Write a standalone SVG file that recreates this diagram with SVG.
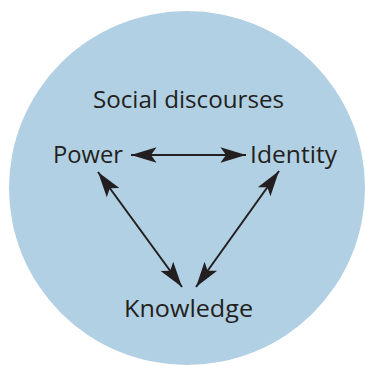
<svg xmlns="http://www.w3.org/2000/svg" width="365" height="366" viewBox="0 0 365 366">
<style>
.lbl{font-family:"Open Sans","Liberation Sans",sans-serif;font-size:24.5px;fill:#231f20}
.con{stroke:#231f20;stroke-width:2;fill:none}
</style>
<defs>
<marker id="ah" markerUnits="userSpaceOnUse" markerWidth="30" markerHeight="20" viewBox="-24 -9 26 18" refX="0" refY="0" orient="auto-start-reverse">
<path d="M0,0 L-23,-7 L-18,0 L-23,7 Z" fill="#231f20"/>
</marker>
</defs>
<rect width="365" height="366" fill="#ffffff"/>
<ellipse id="bg" cx="187" cy="188" rx="178" ry="177" fill="#b1d0e3"/>
<g id="title"><text class="lbl" x="93" y="108" textLength="191" lengthAdjust="spacingAndGlyphs">Social discourses</text></g>
<g id="power"><text class="lbl" x="53" y="163" textLength="70" lengthAdjust="spacingAndGlyphs">Power</text></g>
<g id="identity"><text class="lbl" x="250" y="163" textLength="87" lengthAdjust="spacingAndGlyphs">Identity</text></g>
<g id="knowledge"><text class="lbl" x="124" y="317" textLength="129" lengthAdjust="spacingAndGlyphs">Knowledge</text></g>
<g id="connectors">
<line class="con" x1="131" y1="155" x2="246" y2="155" marker-start="url(#ah)" marker-end="url(#ah)"/>
<line class="con" x1="98" y1="172" x2="182" y2="287" marker-start="url(#ah)" marker-end="url(#ah)"/>
<line class="con" x1="279" y1="171" x2="196" y2="287" marker-start="url(#ah)" marker-end="url(#ah)"/>
</g>
</svg>
